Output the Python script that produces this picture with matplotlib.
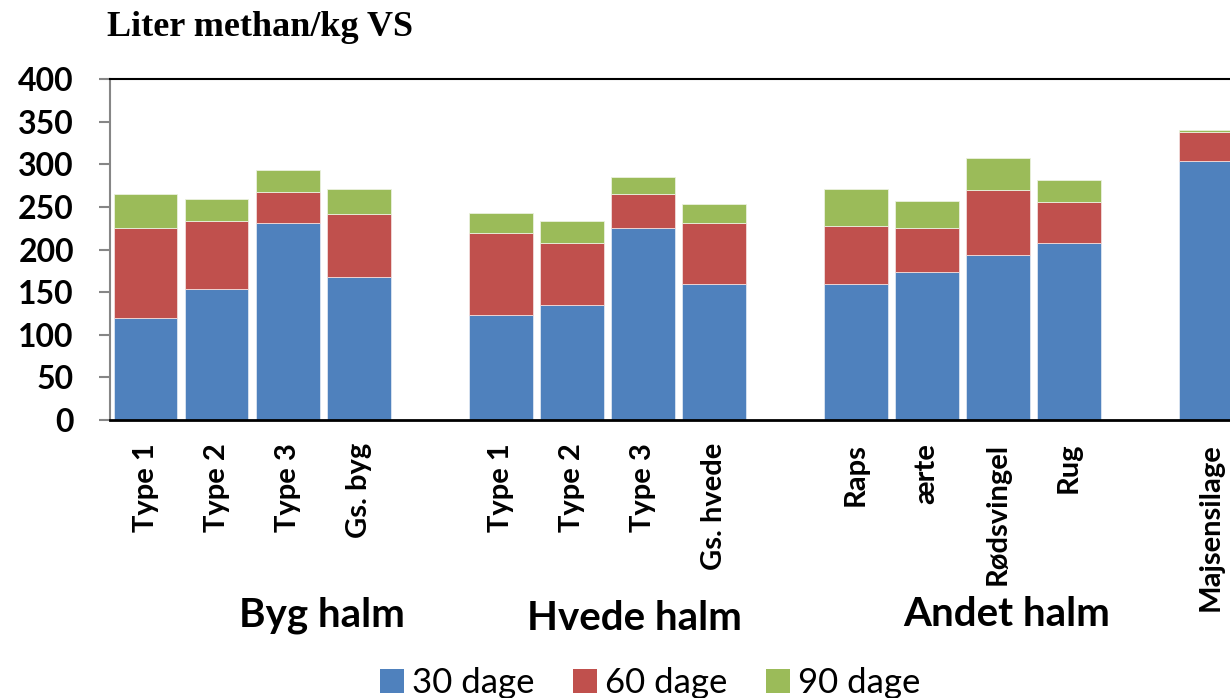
import matplotlib
matplotlib.use('Agg')
import matplotlib.pyplot as plt
from matplotlib.patches import Patch

# grupper og kategorier
groups = ['Byg halm', 'Hvede halm', 'Andet halm', '']
group_cats = [
    ['Type 1', 'Type 2', 'Type 3', 'Gs. byg'],
    ['Type 1', 'Type 2', 'Type 3', 'Gs. hvede'],
    ['Raps', 'ærte', 'Rødsvingel', 'Rug'],
    ['Majsensilage'],
]

# kumulative værdier (liter methan/kg VS)
dage30 = [120, 154, 231, 168, 123, 135, 225, 160, 160, 174, 194, 208, 304]
dage60 = [225, 234, 268, 242, 220, 208, 265, 231, 228, 225, 270, 256, 338]
dage90 = [265, 259, 293, 271, 243, 234, 285, 254, 271, 257, 308, 282, 341]

series_labels = ['30 dage', '60 dage', '90 dage']
colors = ['#4F81BD', '#C0504D', '#9BBB59']

plt.rcParams['font.family'] = ['Lato', 'DejaVu Sans']

# positioner: en tom plads efter hver gruppe
xpos, labels = [], []
pos = 0
for cats in group_cats:
    for c in cats:
        xpos.append(pos)
        labels.append(c)
        pos += 1
    pos += 1

inc60 = [b - a for a, b in zip(dage30, dage60)]
inc90 = [b - a for a, b in zip(dage60, dage90)]

fig = plt.figure(figsize=(12.3, 6.98), dpi=100)
ax = fig.add_axes([110 / 1230, 278 / 698, 1120 / 1230, 340.7 / 698])

w = 0.9
ax.bar(xpos, dage30, w, color=colors[0], edgecolor='#dce6f2', linewidth=0.6)
ax.bar(xpos, inc60, w, bottom=dage30, color=colors[1], edgecolor='#f2dcdb', linewidth=0.6)
ax.bar(xpos, inc90, w, bottom=dage60, color=colors[2], edgecolor='#ebf1de', linewidth=0.6)

ax.set_xlim(-0.5, 15.27)
ax.set_ylim(0, 400)
ax.set_yticks(range(0, 401, 50))
ax.tick_params(axis='y', length=8, width=1.5, color='#868686', pad=18, labelsize=23)
for t in ax.get_yticklabels():
    t.set_fontweight('bold')

ax.set_xticks(xpos)
ax.set_xticklabels(labels, rotation=90, fontsize=21, fontweight='bold', va='top')
ax.tick_params(axis='x', length=0, pad=16.5)

ax.spines['left'].set_color('#868686')
ax.spines['left'].set_linewidth(1.5)
ax.spines['bottom'].set_color('black')
ax.spines['bottom'].set_linewidth(2)
ax.spines['top'].set_color('black')
ax.spines['top'].set_linewidth(1.5)
ax.spines['right'].set_visible(False)

# gruppenavne
label_x = [2.48, 6.89, 12.13]
label_y = [615, 619, 614]
for name, gx, gy in zip(groups[:3], label_x, label_y):
    ax.annotate(name, xy=(gx, 1 - gy / 698), xycoords=('data', 'figure fraction'),
                ha='center', va='center', fontsize=29, fontweight='bold')

fig.text(107 / 1230, 1 - 11 / 698, 'Liter methan/kg VS', family='Liberation Serif',
         fontweight='bold', fontsize=26, ha='left', va='top')

handles = [Patch(facecolor=c, label=l) for c, l in zip(colors, series_labels)]
fig.legend(handles=handles, loc='center', bbox_to_anchor=(650 / 1230, 1 - 683 / 698),
           ncol=3, frameon=False, fontsize=25, handlelength=0.7, handleheight=0.7,
           handletextpad=0.23, columnspacing=1.1, borderpad=0)

fig.savefig('out.png', dpi=100)
